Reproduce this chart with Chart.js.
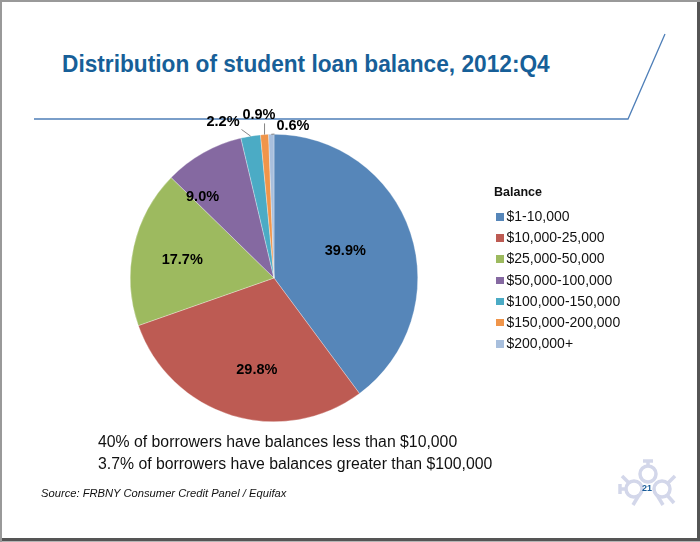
<!DOCTYPE html>
<html>
<head>
<meta charset="utf-8">
<script src="https://cdn.jsdelivr.net/npm/chart.js@4.4.1/dist/chart.umd.min.js"></script>
<style>
  html, body { margin: 0; padding: 0; background: #b5b5b5; }
  body { width: 700px; height: 542px; position: relative; overflow: hidden; font-family: "Liberation Sans", Arial, sans-serif; }
  #slide {
    position: absolute; left: 2px; top: 2px; width: 695px; height: 536px;
    background: #fff; border-right: 3px solid #555; border-bottom: 3px solid #555;
  }
  #frame { position: absolute; left: 0; top: 0; width: 700px; height: 542px; box-sizing: border-box; border-left: 2px solid #999; border-top: 2px solid #999; }
  canvas { position: absolute; left: 0; top: 0; }
  .abs { position: absolute; white-space: nowrap; }
  #title { left: 62px; top: 52px; font-size: 24px; font-weight: bold; color: #175f98; line-height: 1; transform-origin: left top; transform: scaleX(0.945); }
  #legend { left: 494px; top: 185px; font-size: 14px; color: #111; }
  #legend .head { font-weight: bold; font-size: 12.5px; height: 21px; }
  #legend .item { height: 21.2px; line-height: 21.2px; }
  #legend .sw { display: inline-block; width: 7.5px; height: 7.5px; margin: 0 3px 1px 2px; vertical-align: middle; }
  .note { left: 98px; font-size: 15.8px; color: #111; line-height: 1; }
  #src { left: 41px; top: 487px; font-size: 11.2px; font-style: italic; color: #111; }
  #pg { left: 642px; top: 483px; font-size: 9px; font-weight: bold; color: #1a5d9a; }
</style>
</head>
<body>
<div id="slide"></div>
<div id="frame"></div>
<svg class="abs" style="left:0;top:0" width="700" height="542">
  <polyline points="34,119 628,119 665,34" fill="none" stroke="#4f7fb8" stroke-width="1.3"/>
  <g stroke="#d3d7ea" stroke-width="3.5" fill="none">
    <circle cx="648" cy="474" r="8"/>
    <circle cx="634" cy="489" r="8"/>
    <circle cx="662" cy="489" r="8"/>
    <line x1="648" y1="466" x2="648" y2="461"/>
    <line x1="643" y1="461" x2="653" y2="461"/>
    <line x1="626" y1="489" x2="620" y2="489"/>
    <line x1="620" y1="484" x2="620" y2="494"/>
    <line x1="668" y1="483" x2="675" y2="476"/>
    <line x1="629" y1="483" x2="622" y2="476"/>
    <line x1="639" y1="495" x2="633" y2="505"/>
    <line x1="657" y1="495" x2="663" y2="505"/>
    <line x1="667" y1="495" x2="674" y2="503"/>
  </g>
</svg>
<div id="title" class="abs">Distribution of student loan balance, 2012:Q4</div>
<canvas id="pie" width="700" height="542"></canvas>
<div id="legend" class="abs"></div>
<div class="abs note" style="top:434px">40% of borrowers have balances less than $10,000</div>
<div class="abs note" style="top:456px">3.7% of borrowers have balances greater than $100,000</div>
<div id="src" class="abs">Source: FRBNY Consumer Credit Panel / Equifax</div>
<div id="pg" class="abs">21</div>

<script>
// Balance buckets and share of borrowers (%)
const categories = ["$1-10,000", "$10,000-25,000", "$25,000-50,000", "$50,000-100,000", "$100,000-150,000", "$150,000-200,000", "$200,000+"];
const shares = [39.9, 29.8, 17.7, 9.0, 2.2, 0.9, 0.6];
const sliceLabels = ["39.9%", "29.8%", "17.7%", "9.0%", "2.2%", "0.9%", "0.6%"];
const sliceColors = ["#5686b9", "#bd5b53", "#9dba5f", "#8569a1", "#4babc5", "#f0954a", "#a8bfdd"];

// label placement: [radius factor, angle nudge in degrees]
const labelPlace = [[0.53, -2.4], [0.65, -6.5], [0.65, -1.7], [0.75, -12], [1.145, -8.7], [1.136, -1.5], [1.065, 8.2]];

// legend, html
const legendEl = document.getElementById("legend");
legendEl.innerHTML = '<div class="head">Balance</div>' + categories.map((c, i) =>
  '<div class="item"><span class="sw" style="background:' + sliceColors[i] + '"></span>' + c + '</div>').join("");

const pieLabels = {
  id: "pieLabels",
  afterDatasetsDraw(chart) {
    const ctx = chart.ctx;
    const meta = chart.getDatasetMeta(0);
    ctx.save();
    ctx.font = "bold 14.5px 'Liberation Sans', Arial, sans-serif";
    ctx.textAlign = "center";
    ctx.textBaseline = "middle";
    meta.data.forEach((arc, i) => {
      const p = arc.getProps(["x", "y", "startAngle", "endAngle", "outerRadius"], true);
      const mid = (p.startAngle + p.endAngle) / 2;
      const a = mid + labelPlace[i][1] * Math.PI / 180;
      const rr = p.outerRadius * labelPlace[i][0];
      const lx = p.x + Math.cos(a) * rr;
      const ly = p.y + Math.sin(a) * rr;
      if (labelPlace[i][0] > 1) {
        // leader line from slice edge to label box
        const ex = p.x + Math.cos(mid) * p.outerRadius;
        const ey = p.y + Math.sin(mid) * p.outerRadius;
        const w = ctx.measureText(sliceLabels[i]).width / 2 + 2;
        const h = 8;
        const bx = Math.min(Math.max(ex, lx - w), lx + w);
        const by = Math.min(Math.max(ey, ly - h), ly + h);
        ctx.strokeStyle = "#666";
        ctx.lineWidth = 0.8;
        ctx.beginPath();
        ctx.moveTo(ex, ey);
        ctx.lineTo(bx, by);
        ctx.stroke();
      }
      ctx.fillStyle = "#000";
      ctx.fillText(sliceLabels[i], lx, ly);
    });
    ctx.restore();
  }
};

const ctx_pie = document.getElementById("pie").getContext("2d");
const piechart = new Chart(ctx_pie, {
  type: "pie",
  data: {
    labels: categories,
    datasets: [{
      data: shares,
      backgroundColor: sliceColors,
      borderColor: "rgba(255,255,255,0.6)",
      borderWidth: 0.5,
    }],
  },
  options: {
    responsive: false,
    animation: false,
    layout: { padding: { left: 130, right: 282, top: 134, bottom: 120 } },
    plugins: {
      legend: false,
      tooltip: { enabled: false },
    },
  },
  plugins: [pieLabels],
});
</script>
</body>
</html>
